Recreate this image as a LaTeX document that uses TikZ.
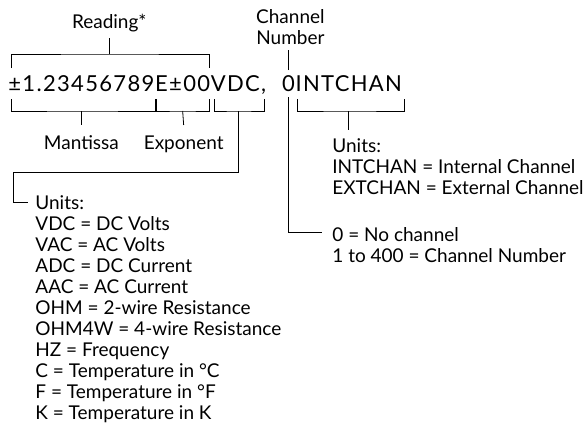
\documentclass[tikz,border=0pt]{standalone}
\usepackage{fontspec}
\setmainfont{Lato}
\newfontfamily\readfont[LetterSpace=6]{Lato}
\usetikzlibrary{calc}

\begin{document}
\begin{tikzpicture}[x=1pt,y=-1pt,line width=0.8pt,
    lbl/.style={inner sep=0pt,font=\fontsize{19}{21}\selectfont},
    rd/.style={inner sep=0pt,font=\readfont\fontsize{22}{24}\selectfont}]
  \useasboundingbox (0,0) rectangle (583,423);
  % the reading string
  \node[rd,anchor=base west] (mant) at (8,91) {±1.23456789};
  \node[rd,anchor=base west] (expo) at (mant.base east) {E±00};
  \node[rd,anchor=base west] (unit) at (expo.base east) {VDC,};
  \node[rd,anchor=base west] (chan) at ($(unit.base east)+(15,0)$) {0};
  \node[rd,anchor=base west] (chun) at (chan.base east) {INTCHAN};
  % labels
  \coordinate (rmid) at ($(mant.base west)!0.5!(expo.base east)+(0,-37)$);
  \node[lbl,anchor=base] (reading) at ($(rmid)+(0,-26)$) {Reading*};
  \node[lbl,anchor=south,align=center] (chnum) at ($(chan.base)+(2,-46)$) {Channel\\Number};
  \node[lbl,anchor=base] (mantlbl) at ($(mant.base)+(0,58)$) {Mantissa};
  \node[lbl,anchor=base] (expolbl) at ($(expo.base)+(1,58)$) {Exponent};
  \node[lbl,anchor=north west,align=left] (culist) at (332,138)
    {Units:\\INTCHAN = Internal Channel\\EXTCHAN = External Channel};
  \node[lbl,anchor=north west,align=left] (chlist) at (332,227)
    {0 = No channel\\1 to 400 = Channel Number};
  \node[lbl,anchor=north west,align=left] (ulist) at (35,195)
    {Units:\\VDC = DC Volts\\VAC = AC Volts\\ADC = DC Current\\AAC = AC Current\\
     OHM = 2-wire Resistance\\OHM4W = 4-wire Resistance\\HZ = Frequency\\
     C = Temperature in °C\\F = Temperature in °F\\K = Temperature in K};
  % brackets
  \draw ($(mant.base west)+(3,-23)$) |- (rmid) -| ($(expo.base east)+(-1,-23)$);
  \draw (rmid) -- ($(reading.south)+(0,6)$);
  \draw ($(chan.base)+(0,-21)$) -- ($(chan.base |- chnum.south)+(0,5)$);
  \draw ($(mant.base west)+(3,8)$) |- ($(mant.base)+(0,20)$) -| ($(mant.base east)+(1,8)$);
  \draw ($(mant.base)+(0,20)$) -- ($(mantlbl.north)+(0,-10)$);
  \draw ($(expo.base west)+(2,8)$) |- ($(expo.base)+(0,20)$) -| ($(expo.base east)+(-1,8)$);
  \draw ($(expo.base)+(0,20)$) -- ($(expolbl.north)+(0,-10)$);
  \draw ($(unit.base west)+(4,8)$) |- ($(unit.base)+(0,20)$) -| ($(unit.base east)+(-2,8)$);
  \draw ($(unit.base)+(0,20)$) |- ($(ulist.north west)+(-22,-23)$) |- ($(ulist.north west)+(-7,7)$);
  \draw ($(chun.base west)+(2,8)$) |- ($(chun.base)+(0,20)$) -| ($(chun.base east)+(2,8)$);
  \draw ($(chun.base)+(0,20)$) -- ($(chun.base |- culist.north)+(0,-8)$);
  \draw ($(chan.base)+(0,6)$) |- ($(chlist.north west)+(-10,5)$);
\end{tikzpicture}
\end{document}
